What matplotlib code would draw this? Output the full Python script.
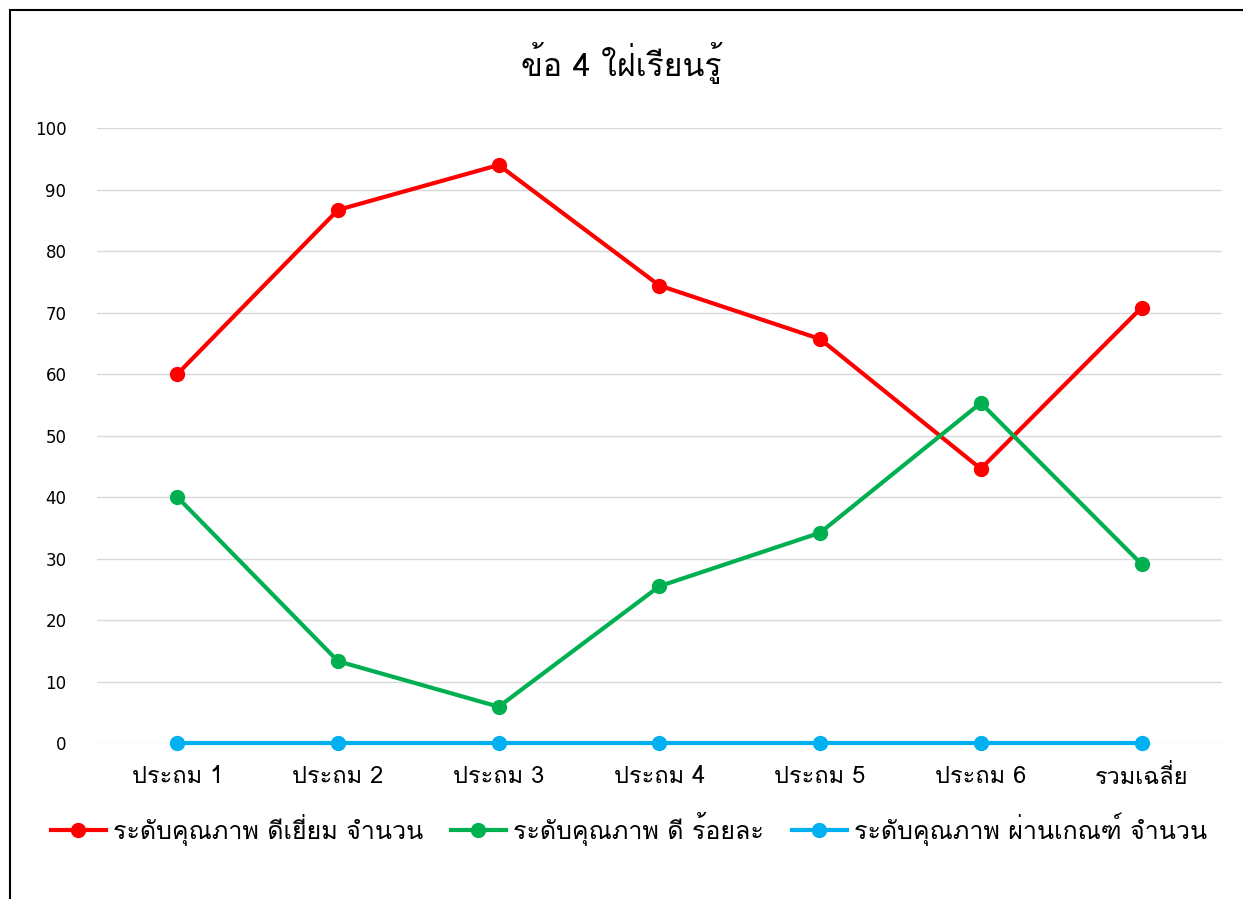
import matplotlib
matplotlib.use("Agg")
import matplotlib.pyplot as plt

categories = ["ประถม 1", "ประถม 2", "ประถม 3", "ประถม 4", "ประถม 5", "ประถม 6", "รวมเฉลี่ย"]
excellent = [60.0, 86.7, 94.0, 74.4, 65.7, 44.6, 70.8]
good = [40.0, 13.3, 5.9, 25.5, 34.2, 55.3, 29.1]
passed = [0, 0, 0, 0, 0, 0, 0]
series_names = [
    "ระดับคุณภาพ ดีเยี่ยม จำนวน",
    "ระดับคุณภาพ ดี ร้อยละ",
    "ระดับคุณภาพ ผ่านเกณฑ์ จำนวน",
]
colors = ["#FF0000", "#00B050", "#00B0F0"]
title = "ข้อ 4 ใฝ่เรียนรู้"
yticks = list(range(0, 101, 10))

# Loma is the one Thai font here that stacks tone marks properly without shaping
thai = ["Loma", "DejaVu Sans"]

fig = plt.figure(figsize=(12.43, 8.99), dpi=100)
ax = fig.add_axes([0.078, 0.1735, 0.905, 0.684])

x = list(range(len(categories)))
for vals, name, c in zip([excellent, good, passed], series_names, colors):
    ax.plot(x, vals, color=c, lw=3, marker="o", ms=10, label=name, clip_on=False)

ax.set_xlim(-0.5, len(categories) - 0.5)
ax.set_ylim(0, 100)
ax.set_yticks(yticks)
ax.set_yticklabels([str(v) for v in yticks], family="DejaVu Sans", fontsize=12)
ax.yaxis.grid(True, color="#D9D9D9", lw=1)
ax.set_axisbelow(True)
for s in ax.spines.values():
    s.set_visible(False)
ax.tick_params(length=0)
ax.tick_params(axis="y", pad=22)
ax.set_xticks(x)
ax.set_xticklabels(categories, family=thai, fontsize=17)
ax.tick_params(axis="x", pad=16)

fig.text(0.5, 0.93, title, ha="center", va="center", family=thai, fontsize=23)

ax.legend(loc="center left", bbox_to_anchor=(-0.05, -0.14), ncol=3, frameon=False,
          prop={"family": thai, "size": 18}, handlelength=2.2, columnspacing=1.1,
          handletextpad=0.3, borderaxespad=0)

fig.add_artist(plt.Rectangle((10 / 1243, -0.1), 1.2, 1 - 10 / 899 + 0.1,
                             transform=fig.transFigure, fill=False, lw=1.5, color="black"))

fig.savefig("out.png", dpi=100)
